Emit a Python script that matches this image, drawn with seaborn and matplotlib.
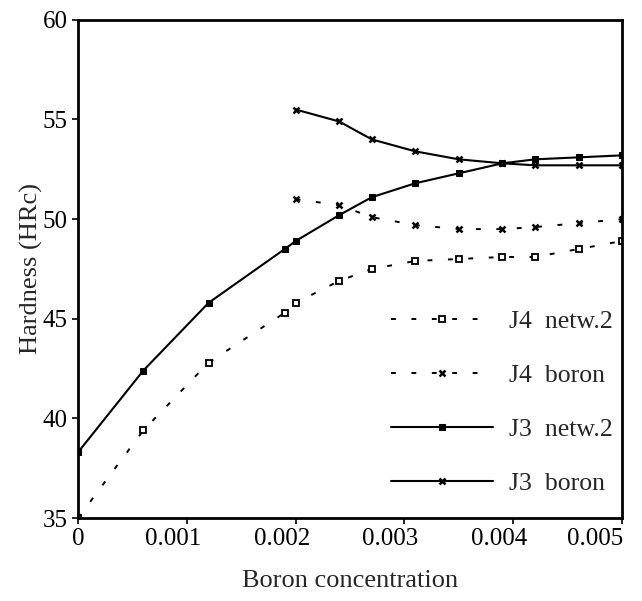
import pandas as pd
import numpy as np
import matplotlib
matplotlib.use("Agg")
import matplotlib.pyplot as plt
import matplotlib.transforms as mtransforms
import seaborn as sns

sns.set_theme(style="white")
plt.rcParams['font.family'] = ['Liberation Serif', 'DejaVu Serif']

# ---- data ----
x_j3_netw = [0, 0.0006, 0.0012, 0.0019, 0.0020, 0.0024, 0.0027, 0.0031, 0.0035, 0.0039, 0.0042, 0.0046, 0.0050]
y_j3_netw = [38.3, 42.4, 45.8, 48.5, 48.9, 50.2, 51.1, 51.8, 52.3, 52.8, 53.0, 53.1, 53.2]

x_j4_netw = [0, 0.0006, 0.0012, 0.0019, 0.0020, 0.0024, 0.0027, 0.0031, 0.0035, 0.0039, 0.0042, 0.0046, 0.0050]
y_j4_netw = [35.0, 39.4, 42.8, 45.3, 45.8, 46.9, 47.5, 47.9, 48.0, 48.1, 48.1, 48.5, 48.9]

x_boron = [0.0020, 0.0024, 0.0027, 0.0031, 0.0035, 0.0039, 0.0042, 0.0046, 0.0050]
y_j3_boron = [55.5, 54.9, 54.0, 53.4, 53.0, 52.8, 52.7, 52.7, 52.7]
y_j4_boron = [51.0, 50.7, 50.1, 49.7, 49.5, 49.5, 49.6, 49.8, 50.0]

x_ticks = [0, 0.001, 0.002, 0.003, 0.004, 0.005]
x_ticklabels = ['0', '0.001', '0.002', '0.003', '0.004', '0.005']
y_ticks = [35, 40, 45, 50, 55, 60]

fig = plt.figure(figsize=(6.42, 6.01), dpi=100)
ax = fig.add_axes([0.1215, 0.138, 0.8475, 0.829])

dots = (0, (2.5, 8))
sns.lineplot(x=x_j4_netw, y=y_j4_netw, ax=ax, color='black', lw=1.4, linestyle=dots,
             marker='s', markersize=5, markerfacecolor='white', markeredgecolor='black',
             markeredgewidth=1.3, label='J4  netw.2')
sns.lineplot(x=x_boron, y=y_j4_boron, ax=ax, color='black', lw=1.4, linestyle=dots,
             marker='x', markersize=5, markeredgecolor='black', markeredgewidth=1.8,
             label='J4  boron')
sns.lineplot(x=x_j3_netw, y=y_j3_netw, ax=ax, color='black', lw=1.5, linestyle='-',
             marker='s', markersize=5, markerfacecolor='black', markeredgecolor='black',
             label='J3  netw.2')
sns.lineplot(x=x_boron, y=y_j3_boron, ax=ax, color='black', lw=1.5, linestyle='-',
             marker='x', markersize=5, markeredgecolor='black', markeredgewidth=1.8,
             label='J3  boron')

ax.set_xlim(0, 0.005)
ax.set_ylim(35, 60)
ax.set_xticks(x_ticks)
ax.set_xticklabels(x_ticklabels)
ax.set_yticks(y_ticks)
ax.tick_params(axis='both', direction='out', length=4, width=1.2, labelsize=18,
               colors='black', bottom=True, left=True)
for s in ax.spines.values():
    s.set_linewidth(2)
    s.set_color('black')
ax.grid(False)

# the printed tick labels sit a bit left of their ticks; last one is pulled inside
labels = ax.get_xticklabels()
for i, lab in enumerate(labels):
    if i == 0:
        continue
    if i == len(labels) - 1:
        lab.set_horizontalalignment('right')
        shift = mtransforms.ScaledTranslation(1 / 100, 0, fig.dpi_scale_trans)
    else:
        shift = mtransforms.ScaledTranslation(-14 / 100, 0, fig.dpi_scale_trans)
    lab.set_transform(lab.get_transform() + shift)

ax.set_xlabel('Boron concentration', fontsize=19, labelpad=14)
ax.set_ylabel('Hardness (HRc)', fontsize=19, labelpad=0)

leg = ax.legend(loc='lower right', bbox_to_anchor=(1.025, 0.0), frameon=False,
                fontsize=18.5, handlelength=4.0, labelspacing=1.2, handletextpad=0.6)

fig.savefig('out.png', dpi=100)
